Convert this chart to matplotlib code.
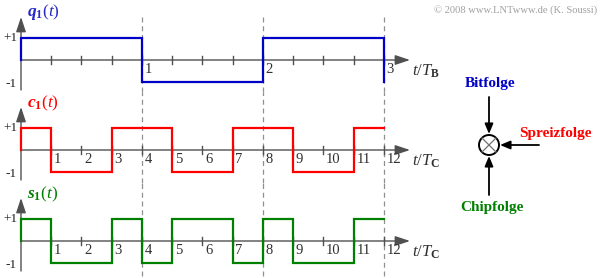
import matplotlib
matplotlib.use("Agg")
import matplotlib.pyplot as plt
from matplotlib.patches import Circle

#===== DATA =====
bit_values = [1, -1, 1]          # q1(t), one value per bit T_B
bit_end = -1                     # q1 falls to -1 at t = 3 T_B
spread_values = [1, -1, -1, 1, 1, -1, -1, 1, 1, -1, -1, 1]   # c1(t), per chip T_C
chip_values = [1, -1, -1, 1, -1, 1, 1, -1, 1, -1, -1, 1]     # s1(t), per chip T_C
bit_ticks = [1, 2, 3]
chip_ticks = list(range(1, 13))
titles = ["q", "c", "s"]
xlabels = [r"$t/T_\mathbf{B}$", r"$t/T_\mathbf{C}$", r"$t/T_\mathbf{C}$"]

#===== STYLE =====
plt.rcParams['font.family'] = ['Liberation Serif', 'DejaVu Serif']
plt.rcParams['mathtext.fontset'] = 'custom'
plt.rcParams['mathtext.rm'] = 'Liberation Serif'
plt.rcParams['mathtext.it'] = 'Liberation Serif:italic'
plt.rcParams['mathtext.bf'] = 'Liberation Serif:bold'
plt.rcParams['mathtext.bfit'] = 'Liberation Serif:italic:bold'

W, H = 603, 278
x0_px = 21.0           # pixel of t = 0
chip_px = 30.25        # pixels per T_C
unit_px = 22.0         # pixels per amplitude unit
axis_col = '#505050'
blue, red, green = '#0000c8', '#ff0000', '#008000'
title_cols = ['#2828c8', '#ff0000', '#008000']

fig = plt.figure(figsize=(W / 100, H / 100), dpi=100)

# (band top, band bottom, zero line, y-axis top, y-axis bottom, dashed top, dashed bottom) in px
panels = [
    (0, 92, 60, 17, 90, 15, 92),
    (92, 183, 150, 107, 180, 92, 183),
    (183, 278, 241, 198, 271, 183, 276),
]

def make_axes(band_top, band_bot, zero, scale):
    ax = fig.add_axes([0, 1 - band_bot / H, 1, (band_bot - band_top) / H])
    ax.set_xlim(-x0_px / scale, (W - x0_px) / scale)
    ax.set_ylim(-(band_bot - zero) / unit_px, (zero - band_top) / unit_px)
    ax.axis('off')
    return ax

def step_xy(values, end):
    xs = [0] + list(range(len(values) + 1))
    ys = [0] + list(values) + [end]
    return xs, ys

# values, end value, colour, px per unit, labels, chips per unit
signals = [
    (bit_values, bit_end, blue, chip_px * 4, bit_ticks, 4),
    (spread_values, spread_values[-1], red, chip_px, chip_ticks, 1),
    (chip_values, chip_values[-1], green, chip_px, chip_ticks, 1),
]

for i, (vals, end, col, scale, labels, per) in enumerate(signals):
    top, bot, zero, yat, yab, dt, db = panels[i]
    ax = make_axes(top, bot, zero, scale)
    # dashed lines at each bit boundary
    for b in [1, 2, 3]:
        xb = b if per == 4 else b * 4
        ax.plot([xb, xb], [-(db - zero) / unit_px, (zero - dt) / unit_px],
                color='#909090', lw=0.9, ls=(0, (4, 3)), zorder=1, clip_on=False)
    # time axis with arrow
    x_end = (410 - x0_px) / scale
    ax.annotate('', xy=(x_end, 0), xytext=(0, 0),
                arrowprops=dict(arrowstyle='-|>,head_length=0.9,head_width=0.3',
                                color=axis_col, lw=1.0, shrinkA=0, shrinkB=0), zorder=2)
    # amplitude axis with arrow
    ax.annotate('', xy=(0, (zero - yat) / unit_px), xytext=(0, -(yab - zero) / unit_px),
                arrowprops=dict(arrowstyle='-|>,head_length=0.9,head_width=0.3',
                                color=axis_col, lw=1.0, shrinkA=0, shrinkB=0), zorder=2)
    # small ticks at every chip
    for k in range(1, 13):
        xk = k / per
        ax.plot([xk, xk], [-0.18, 0.18], color=axis_col, lw=1.0, zorder=2)
    # signal
    xs, ys = step_xy(vals, end)
    ax.step(xs, ys, where='post', color=col, lw=1.6, zorder=3, solid_joinstyle='miter')
    # tick numbers
    for lab in labels:
        ax.annotate(str(lab), xy=(lab, 0), xytext=(1.8, -2.5), textcoords='offset points',
                    ha='left', va='top', fontsize=10.5, color='#303030')
    # +1 / -1
    ax.annotate('+1', xy=(0, 1), xytext=(-2.5, 0), textcoords='offset points',
                ha='right', va='center', fontsize=9.5, color='#202020')
    ax.annotate('-1', xy=(0, -1), xytext=(-3, -1.5), textcoords='offset points',
                ha='right', va='center', fontsize=9.5, color='#202020')
    # axis label
    ax.annotate(xlabels[i], xy=(x_end, 0), xytext=(1.5, -2), textcoords='offset points',
                ha='left', va='top', fontsize=12, color='#303030')
    # title
    ax.annotate(r"$\mathbfit{%s}_\mathbf{1}\mathrm{(}\mathit{t}\mathrm{)}$" % titles[i],
                xy=(0, (zero - top) / unit_px), xytext=(4, -1.5), textcoords='offset points',
                ha='left', va='top', fontsize=12.5, color=title_cols[i])

#===== RIGHT DIAGRAM (pixel overlay) =====
ov = fig.add_axes([0, 0, 1, 1])
ov.set_xlim(0, W)
ov.set_ylim(H, 0)
ov.axis('off')
cx, cy, r = 489, 145, 10
ov.add_patch(Circle((cx, cy), r, fill=False, ec='black', lw=1.4))
d = r * 0.707
ov.plot([cx - d, cx + d], [cy - d, cy + d], color='#707070', lw=0.9)
ov.plot([cx - d, cx + d], [cy + d, cy - d], color='#707070', lw=0.9)
arr = dict(arrowstyle='-|>,head_length=0.6,head_width=0.25', color='black', lw=1.3,
           shrinkA=0, shrinkB=0)
ov.annotate('', xy=(cx, cy - r - 1), xytext=(cx, 97), arrowprops=arr)
ov.annotate('', xy=(cx + r + 1, cy), xytext=(539, cy), arrowprops=arr)
ov.annotate('', xy=(cx, cy + r + 1), xytext=(cx, 195), arrowprops=arr)
ov.text(490, 83, 'Bitfolge', color=blue, fontsize=11, fontweight='bold', ha='center', va='center')
ov.text(555, 134, 'Spreizfolge', color=red, fontsize=11, fontweight='bold', ha='center', va='center')
ov.text(492, 207, 'Chipfolge', color=green, fontsize=11, fontweight='bold', ha='center', va='center')
ov.text(597, 10, '\u00a9 2008 www.LNTwww.de (K. Soussi)', color='#a0a0a0', fontsize=7.6,
        ha='right', va='center')

fig.savefig('out.png', dpi=100)
